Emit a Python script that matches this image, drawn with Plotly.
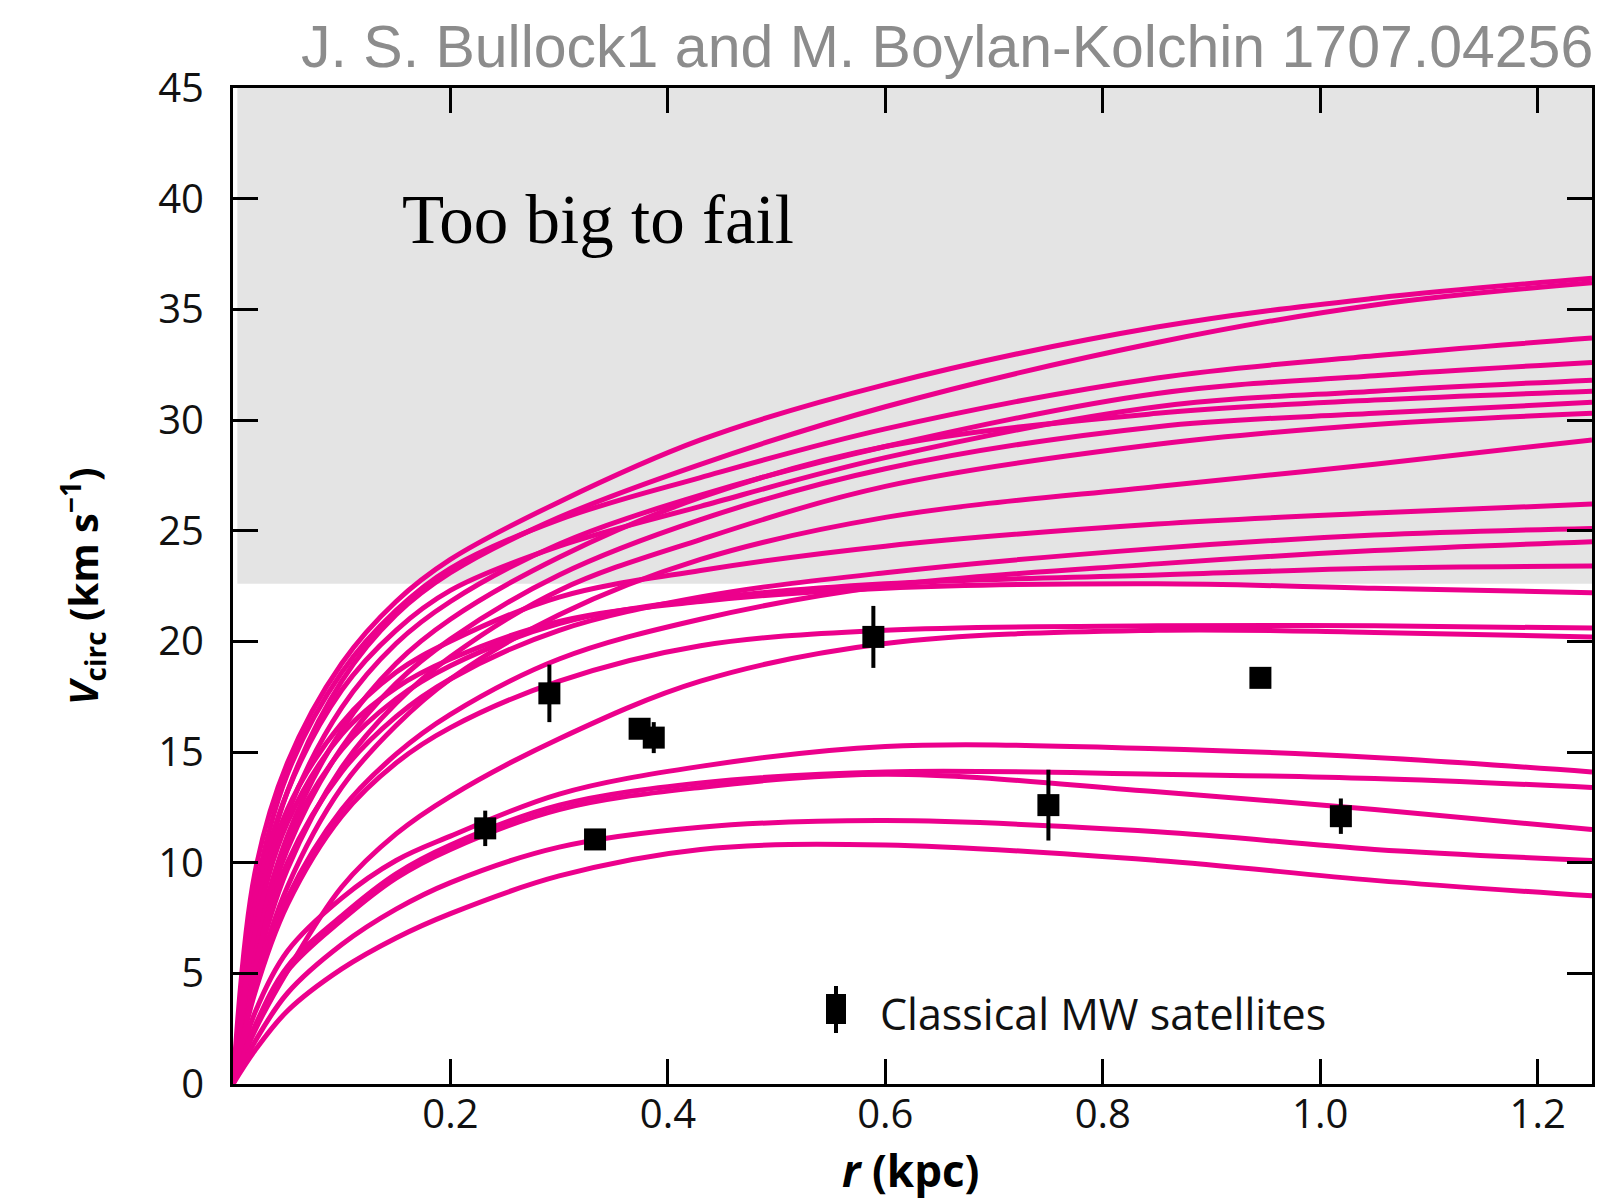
import plotly.graph_objects as go

# ---------------- data ----------------
r_grid = [0, 0.02, 0.05, 0.1, 0.15, 0.2, 0.3, 0.43, 0.6, 0.85, 1.05, 1.25]

curve_A = [0, 9.5, 14.5, 19.0, 21.8, 23.7, 26.3, 29.1, 31.6, 34.2, 35.5, 36.4]
curve_B = [0, 7.6, 13.2, 18.2, 21.2, 23.1, 25.6, 28.0, 30.6, 33.5, 35.2, 36.2]
curve_C = [0, 8.5, 14.0, 18.6, 21.4, 23.3, 25.5, 27.4, 29.6, 31.9, 32.9, 33.7]
curve_D = [0, 6.8, 12.2, 17.0, 19.9, 21.8, 24.4, 26.6, 28.8, 31.2, 32.0, 32.6]
curve_E = [0, 8.0, 13.2, 17.8, 20.5, 22.3, 24.3, 26.1, 28.3, 30.6, 31.3, 31.8]
curve_F = [0, 6.0, 11.2, 16.0, 19.0, 21.0, 23.8, 26.5, 28.8, 30.3, 30.9, 31.3]
curve_G = [0, 5.6, 10.6, 15.2, 18.1, 20.1, 23.0, 25.5, 27.8, 29.7, 30.3, 30.8]
curve_H = [0, 5.0, 9.7, 14.3, 17.2, 19.3, 22.3, 24.6, 27.0, 28.9, 29.8, 30.3]
curve_I = [0, 4.5, 8.9, 13.4, 16.2, 18.3, 21.2, 23.7, 25.6, 27.0, 28.0, 29.1]
curve_J = [0, 7.4, 12.4, 16.3, 18.6, 20.0, 22.0, 23.2, 24.3, 25.3, 25.8, 26.2]
curve_K = [0, 5.3, 10.0, 14.1, 16.6, 18.3, 20.5, 22.0, 23.1, 24.2, 24.8, 25.1]
curve_L = [0, 4.3, 8.4, 12.4, 14.9, 16.7, 19.2, 21.0, 22.5, 23.5, 24.1, 24.5]
curve_M = [0, 6.2, 11.0, 15.1, 17.4, 18.9, 20.8, 21.9, 22.6, 23.0, 23.3, 23.4]
curve_N = [0, 6.8, 11.8, 15.8, 17.9, 19.2, 20.9, 21.8, 22.4, 22.6, 22.4, 22.2]
curve_O = [0, 4.1, 8.1, 12.1, 14.5, 16.1, 18.2, 19.8, 20.5, 20.7, 20.7, 20.6]
curve_P = [0, 2.4, 5.1, 8.9, 11.3, 13.0, 15.6, 18.2, 19.9, 20.5, 20.4, 20.2]
curve_L1 = [0, 3.2, 6.0, 8.4, 10.1, 11.2, 13.1, 14.35, 15.25, 15.15, 14.75, 14.1]
curve_L2 = [0, 2.6, 5.3, 7.6, 9.5, 10.8, 12.6, 13.6, 14.1, 14.0, 13.8, 13.4]
curve_L3 = [0, 2.5, 5.1, 7.4, 9.3, 10.6, 12.4, 13.4, 14.0, 13.2, 12.4, 11.5]
curve_L4 = [0, 1.9, 4.1, 6.3, 7.9, 9.1, 10.7, 11.6, 11.9, 11.4, 10.6, 10.1]
curve_L5 = [0, 1.5, 3.3, 5.2, 6.6, 7.7, 9.4, 10.6, 10.8, 10.1, 9.2, 8.5]

curves = [curve_A, curve_B, curve_C, curve_D, curve_E, curve_F, curve_G, curve_H,
          curve_I, curve_J, curve_K, curve_L, curve_M, curve_N, curve_O, curve_P,
          curve_L1, curve_L2, curve_L3, curve_L4, curve_L5]

sat_r = [0.232, 0.291, 0.333, 0.374, 0.387, 0.589, 0.750, 0.945, 1.019]
sat_v = [11.55, 17.65, 11.05, 16.05, 15.65, 20.2, 12.6, 18.35, 12.1]
sat_err = [0.8, 1.3, 0.3, 0.4, 0.7, 1.4, 1.6, 0.2, 0.8]

x_ticks = [0.2, 0.4, 0.6, 0.8, 1.0, 1.2]
x_ticktext = ["0.2", "0.4", "0.6", "0.8", "1.0", "1.2"]
y_ticks = [0, 5, 10, 15, 20, 25, 30, 35, 40, 45]
tbtf_threshold = 22.6

# ---------------- figure ----------------
PINK = "#ec008c"
fig = go.Figure()

for c in curves:
    fig.add_trace(go.Scatter(x=r_grid, y=c, mode="lines",
                             line=dict(color=PINK, width=5, shape="spline", smoothing=1.0),
                             showlegend=False, hoverinfo="skip"))

fig.add_trace(go.Scatter(x=sat_r, y=sat_v, mode="markers",
                         marker=dict(symbol="square", size=22, color="black"),
                         error_y=dict(type="data", array=sat_err, visible=True,
                                      color="black", thickness=4, width=0),
                         showlegend=False))

W, H = 1615, 1202
L, R, T, B = 233, 23, 88, 118
pw, ph = W - L - R, H - T - B


def px(xp):
    return (xp - L) / pw


def py(yp):
    return (H - B - yp) / ph


shapes = [
    dict(type="rect", xref="x", yref="y", x0=0.004, x1=1.25, y0=tbtf_threshold, y1=45,
         fillcolor="#e4e4e4", line=dict(width=0), layer="below"),
    # legend symbol
    dict(type="line", xref="paper", yref="paper", x0=px(836), x1=px(836),
         y0=py(986), y1=py(1033), line=dict(color="black", width=4)),
    dict(type="rect", xref="paper", yref="paper", x0=px(826), x1=px(846),
         y0=py(994), y1=py(1024), fillcolor="black", line=dict(width=0)),
]

annotations = [
    dict(text="Too big to fail", xref="paper", yref="paper", x=px(400), y=py(220),
         xanchor="left", yanchor="middle", showarrow=False,
         font=dict(family="Liberation Serif", size=69, color="black")),
    dict(text="Classical MW satellites", xref="paper", yref="paper", x=px(878), y=py(1013),
         xanchor="left", yanchor="middle", showarrow=False,
         font=dict(family="Open Sans", size=43, color="#111111")),
    dict(text="J. S. Bullock1 and M. Boylan-Kolchin 1707.04256", xref="paper", yref="paper",
         x=px(1595), y=py(47), xanchor="right", yanchor="middle", showarrow=False,
         font=dict(family="Liberation Sans", size=59, color="#8c8c8c")),
    dict(text="<b><i>V</i><sub>circ</sub> (km s<sup>−1</sup>)</b>", xref="paper", yref="paper",
         x=px(82), y=py(586), xanchor="center", yanchor="middle", textangle=-90,
         showarrow=False, font=dict(family="Open Sans", size=40, color="black")),
    dict(text="<b><i>r</i> (kpc)</b>", xref="paper", yref="paper",
         x=px(911), y=py(1170), xanchor="center", yanchor="middle",
         showarrow=False, font=dict(family="Open Sans", size=44, color="black")),
]

axis_common = dict(showline=True, linecolor="black", linewidth=3, mirror="ticks",
                   ticks="inside", ticklen=25, tickwidth=3, tickcolor="black",
                   showgrid=False, zeroline=False,
                   tickfont=dict(family="Open Sans", size=40, color="#111111"))

fig.update_layout(
    width=W, height=H,
    margin=dict(l=L, r=R, t=T, b=B),
    paper_bgcolor="white", plot_bgcolor="white",
    xaxis=dict(range=[0, 1.25], tickvals=x_ticks, ticktext=x_ticktext,
               ticklabelstandoff=-7, **axis_common),
    yaxis=dict(range=[0, 45], tickvals=y_ticks, ticklabelstandoff=18, **axis_common),
    shapes=shapes, annotations=annotations, showlegend=False,
)

fig.write_html("out.html")
